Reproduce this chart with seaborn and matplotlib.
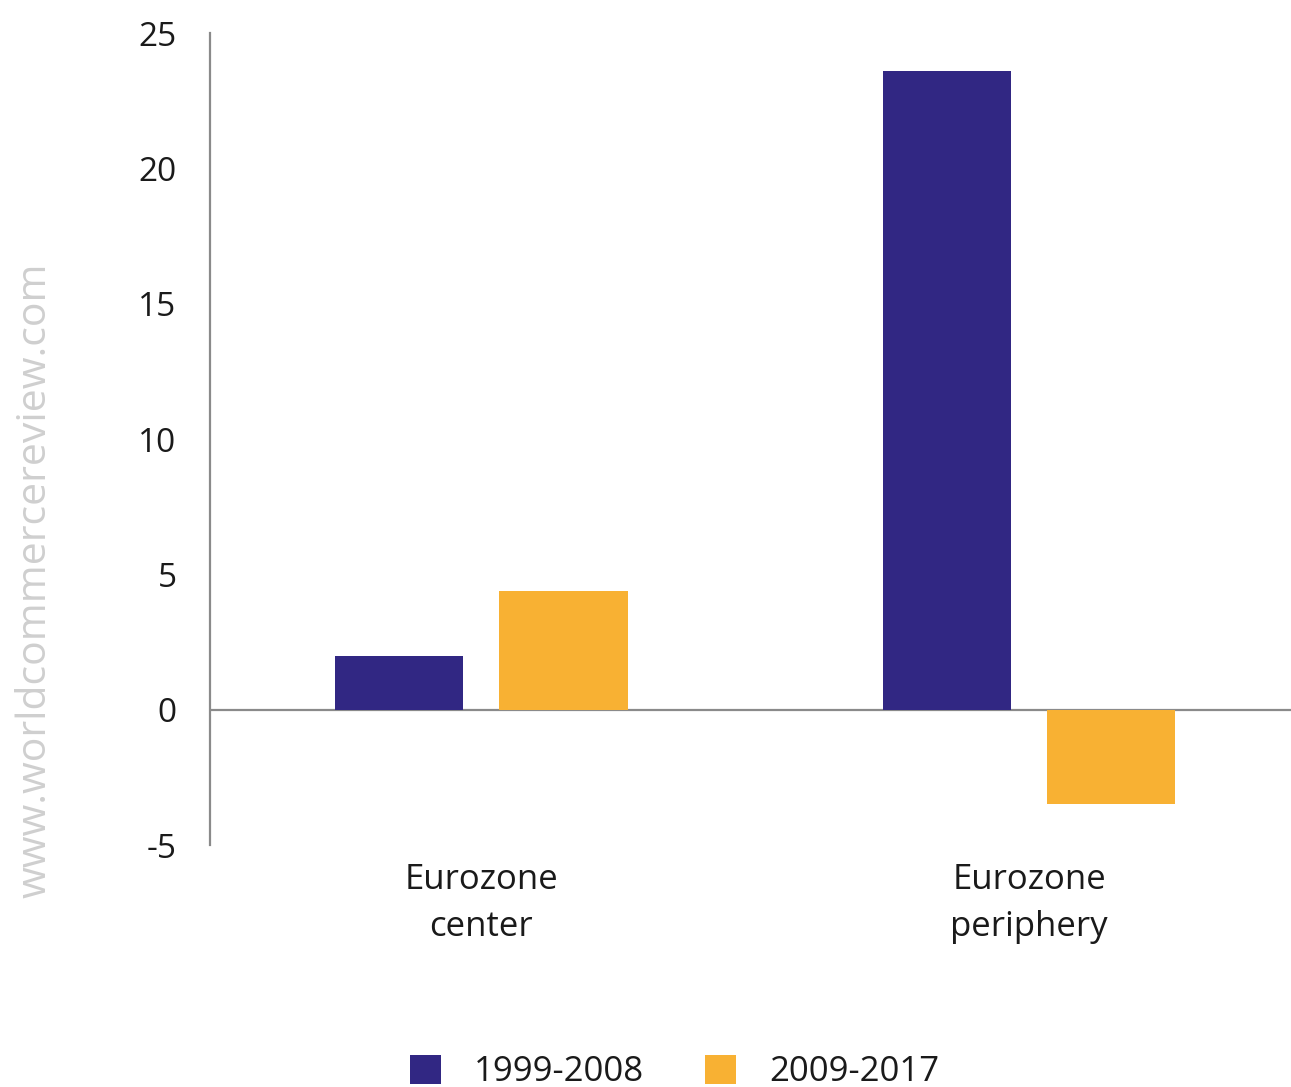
import matplotlib
matplotlib.use("Agg")
import matplotlib.pyplot as plt
import seaborn as sns
import pandas as pd
from matplotlib.patches import Patch

# Data
regions = ["Eurozone\ncenter", "Eurozone\nperiphery"]
periods = ["1999-2008", "2009-2017"]
values_1999_2008 = [2.0, 23.6]
values_2009_2017 = [4.4, -3.5]
y_ticks = [-5, 0, 5, 10, 15, 20, 25]

colors = {"1999-2008": "#312783", "2009-2017": "#F8B133"}

df = pd.DataFrame({
    "region": regions * 2,
    "period": [periods[0]] * 2 + [periods[1]] * 2,
    "value": values_1999_2008 + values_2009_2017,
})

sns.set_theme(style="white")
plt.rcParams["font.family"] = ["Open Sans", "DejaVu Sans"]

fig = plt.figure(figsize=(12.91, 10.87), dpi=100)
ax = fig.add_axes([0.1627, 0.2226, 1.0 - 0.1627, 0.9696 - 0.2226])

sns.barplot(data=df, x="region", y="value", hue="period", order=regions,
            hue_order=periods, palette=colors, width=0.6, gap=0.22,
            linewidth=0, saturation=1, ax=ax, legend=False)

ax.set_ylim(-5, 25)
ax.set_xlim(-0.495, 1.478)
ax.set_yticks(y_ticks)
ax.set_yticklabels([str(t) for t in y_ticks])
ax.axhline(0, color="#8a8a8a", lw=1.6, zorder=0.5)

for s in ["top", "right", "bottom"]:
    ax.spines[s].set_visible(False)
ax.spines["left"].set_color("#8a8a8a")
ax.spines["left"].set_linewidth(1.6)

ax.tick_params(axis="y", length=0, pad=24, labelsize=24, labelcolor="#1a1a1a")
ax.tick_params(axis="x", length=0, pad=13, labelsize=25, labelcolor="#1a1a1a")
for lab in ax.get_xticklabels():
    lab.set_linespacing(1.5)
ax.set_xlabel("")
ax.set_ylabel("")

# Legend along the bottom
handles = [Patch(facecolor=colors[p], edgecolor="none", label=p) for p in periods]
fig.legend(handles=handles, loc="center", bbox_to_anchor=(0.5225, 0.0138),
           ncol=2, frameon=False, fontsize=25, handlelength=0.9,
           handleheight=0.9, handletextpad=0.95, columnspacing=1.75,
           labelcolor="#1a1a1a")

# Site watermark
fig.text(0.027, 0.466, "www.worldcommercereview.com", rotation=90,
         ha="center", va="center", fontsize=29.5, color="#cfcfcf")

fig.savefig("out.png", dpi=100)
